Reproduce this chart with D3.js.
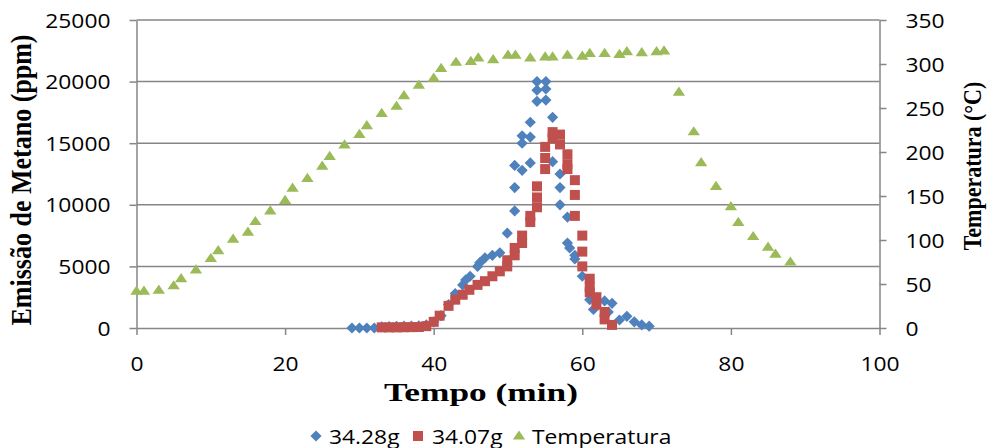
<!DOCTYPE html>
<html>
<head>
<meta charset="utf-8">
<script src="https://cdn.jsdelivr.net/npm/d3@7"></script>
<style>
  html, body { margin: 0; padding: 0; background: #fff; }
  svg { display: block; }
</style>
</head>
<body>
<svg id="chart" width="988" height="448"></svg>
<script>
// Methane emission, sample 34.28g
const tempoA = [29, 30, 31, 32, 33, 34, 35, 36, 37, 38, 39, 40, 41, 42, 42.9, 43.9, 44.3, 44.9, 45.9, 46.2, 46.9, 47.9, 48.9, 49.9,
  50.9, 50.9, 50.9, 51.9, 51.9, 51.9, 53, 53, 53, 53.9, 53.9, 53.9, 55.1, 55.1, 55.1, 56, 56, 57, 57, 57, 58, 58, 58.3,
  59, 59, 60, 61, 61.5, 63, 63.5, 64, 65, 66, 67, 68, 69];
const metanoA = [0, 0, 0, 0, 100, 120, 130, 150, 160, 170, 250, 500, 1000, 1900, 2800, 3500, 3900, 4200, 5000, 5300, 5700, 5900, 6100, 7700,
  9500, 11400, 13200, 12800, 15000, 15600, 13400, 15500, 16700, 18400, 19300, 20000, 18500, 19400, 20000, 17100, 13500, 12500, 11400, 10000, 9000, 6900, 6500,
  5900, 5600, 4200, 2300, 1500, 2200, 1300, 2000, 650, 950, 500, 250, 150];

// Methane emission, sample 34.07g
const tempoB = [33, 34, 35, 36, 37, 38, 39, 40, 40.8, 42, 42.9, 43.9, 44.8, 45.9, 46.9, 47.9, 48.9, 49.9, 49.9, 50.9, 50.9,
  51.9, 51.9, 53, 53, 53.9, 53.9, 53.9, 55, 55, 55, 56, 56, 57, 57, 58, 58, 58, 59, 59, 59, 60, 60, 60,
  61, 61, 61, 61.9, 61.9, 63, 63, 64];
const metanoB = [50, 50, 50, 60, 70, 80, 150, 500, 1000, 1800, 2300, 2700, 3100, 3500, 3800, 4200, 4600, 5000, 5500, 5900, 6500,
  6900, 7500, 8600, 9100, 9800, 10600, 11500, 12900, 13800, 14700, 15900, 15400, 15700, 14900, 14100, 13300, 12900, 12000, 10800, 9100, 7500, 6200, 5000,
  4000, 3300, 2900, 2500, 1900, 1300, 700, 250];

// Oven temperature (right axis)
const tempoT = [0, 1, 3, 5, 6, 8, 10, 11, 13, 15, 16, 18, 20, 21, 23, 25, 26, 28, 30, 31, 33, 35, 36, 38, 40, 41, 43, 45, 46, 48,
  50, 51, 53, 55, 56, 58, 60, 61, 63, 65, 66, 68, 70, 71, 73, 75, 76, 78, 80, 81, 83, 85, 86, 88];
const temperatura = [42, 42, 43, 48, 56, 66, 79, 88, 101, 109, 121, 133, 145, 159, 170, 184, 195, 208, 220, 230, 244, 252, 264, 276, 284, 295, 302, 303, 307, 305,
  310, 310, 307, 308, 308, 310, 309, 312, 312, 311, 314, 313, 314, 315, 268, 223, 188, 161, 138, 120, 104, 92, 84, 75];

// Axis ticks
const ticksX = [0, 20, 40, 60, 80, 100];
const ticksLeft = [0, 5000, 10000, 15000, 20000, 25000];
const ticksRight = [0, 50, 100, 150, 200, 250, 300, 350];

const seriesNames = ["34.28g", "34.07g", "Temperatura"];
const colors = { a: "#4F81BD", b: "#C0504D", t: "#9BBB59" };

const svg = d3.select("#chart");
const plot = { left: 136.5, right: 879.5, top: 20, bottom: 328 };
const SX = 1.17;      // horizontal widening of tick and legend text
const SX_TITLE = 1.36; // horizontal widening of the x-axis title
const SX_VTITLE = 1.1; // widening of the rotated titles

const x = d3.scaleLinear().domain([0, 100]).range([plot.left, plot.right]);
const yL = d3.scaleLinear().domain([0, 25000]).range([plot.bottom, plot.top]);
const yR = d3.scaleLinear().domain([0, 350]).range([plot.bottom, plot.top]);

const tickFont = "'Open Sans', sans-serif";
const tickSize = 19.5;
const titleFont = "'Liberation Serif', 'Times New Roman', serif";
const axisColor = "#868686";

// Horizontal gridlines
svg.append("g")
  .selectAll("line")
  .data(ticksLeft.filter(d => d > 0))
  .join("line")
  .attr("x1", plot.left).attr("x2", plot.right)
  .attr("y1", d => yL(d)).attr("y2", d => yL(d))
  .attr("stroke", axisColor).attr("stroke-width", 1.5);

function styleAxis(g) {
  g.select(".domain").attr("stroke", axisColor).attr("stroke-width", 1.5);
  g.selectAll(".tick line").attr("stroke", axisColor).attr("stroke-width", 1.5);
  g.selectAll(".tick text")
    .attr("font-family", tickFont).attr("font-size", tickSize).attr("fill", "#000");
}

// Left axis
const gL = svg.append("g").attr("transform", `translate(${plot.left},0)`)
  .call(d3.axisLeft(yL).tickValues(ticksLeft).tickSize(7).tickSizeOuter(0).tickFormat(d3.format("d")));
styleAxis(gL);
gL.selectAll(".tick text").attr("x", -26 / SX).attr("dy", "0.36em").attr("transform", `scale(${SX},1)`);

// Right axis
const gR = svg.append("g").attr("transform", `translate(${plot.right},0)`)
  .call(d3.axisRight(yR).tickValues(ticksRight).tickSize(7).tickSizeOuter(0).tickFormat(d3.format("d")));
styleAxis(gR);
gR.selectAll(".tick text").attr("x", 26 / SX).attr("dy", "0.36em").attr("transform", `scale(${SX},1)`);

// Bottom axis
const gB = svg.append("g").attr("transform", `translate(0,${plot.bottom})`)
  .call(d3.axisBottom(x).tickValues(ticksX).tickSize(7).tickSizeOuter(0).tickFormat(d3.format("d")));
styleAxis(gB);
gB.selectAll(".tick text").attr("y", 38).attr("dy", "0").attr("dominant-baseline", "middle")
  .attr("transform", `scale(${SX},1)`)
  .attr("x", 0);

// Marker shapes
const diamond = "M0,-5.6L5.6,0L0,5.6L-5.6,0Z";
const square = "M-5,-5H5V5H-5Z";
const triangle = "M0,-5.6L6.2,3.6L-6.2,3.6Z";

function scatter(tx, vals, yScale, shape, color) {
  svg.append("g")
    .selectAll("path")
    .data(tx.map((t, i) => [t, vals[i]]))
    .join("path")
    .attr("d", shape)
    .attr("transform", d => `translate(${x(d[0])},${yScale(d[1])})`)
    .attr("fill", color);
}

scatter(tempoA, metanoA, yL, diamond, colors.a);
scatter(tempoB, metanoB, yL, square, colors.b);
scatter(tempoT, temperatura, yR, triangle, colors.t);

// Axis titles
function stretchedText(tx, ty, rot, txt, size, sx) {
  svg.append("text")
    .attr("transform", `translate(${tx},${ty}) scale(${sx},1) rotate(${rot})`)
    .attr("text-anchor", "middle")
    .attr("dominant-baseline", "central")
    .attr("font-family", titleFont)
    .attr("font-weight", "bold")
    .attr("font-size", size)
    .attr("fill", "#000")
    .text(txt);
}

stretchedText(22, 180, -90, "Emissão de Metano (ppm)", 26, SX_VTITLE);
stretchedText(973, 166, -90, "Temperatura (°C)", 22, SX_VTITLE);
stretchedText(481, 392, 0, "Tempo (min)", 26, SX_TITLE);

// Legend
const legendItems = [
  { shape: diamond, color: colors.a, label: seriesNames[0], mx: 316, lx: 329 },
  { shape: square, color: colors.b, label: seriesNames[1], mx: 418, lx: 432 },
  { shape: triangle, color: colors.t, label: seriesNames[2], mx: 519, lx: 532 }
];
const lg = svg.append("g");
legendItems.forEach(it => {
  lg.append("path").attr("d", it.shape).attr("fill", it.color)
    .attr("transform", `translate(${it.mx},436)`);
  lg.append("text")
    .attr("transform", `translate(${it.lx},436) scale(${SX},1)`)
    .attr("dominant-baseline", "central")
    .attr("font-family", tickFont).attr("font-size", tickSize).attr("fill", "#000")
    .text(it.label);
});
</script>
</body>
</html>
